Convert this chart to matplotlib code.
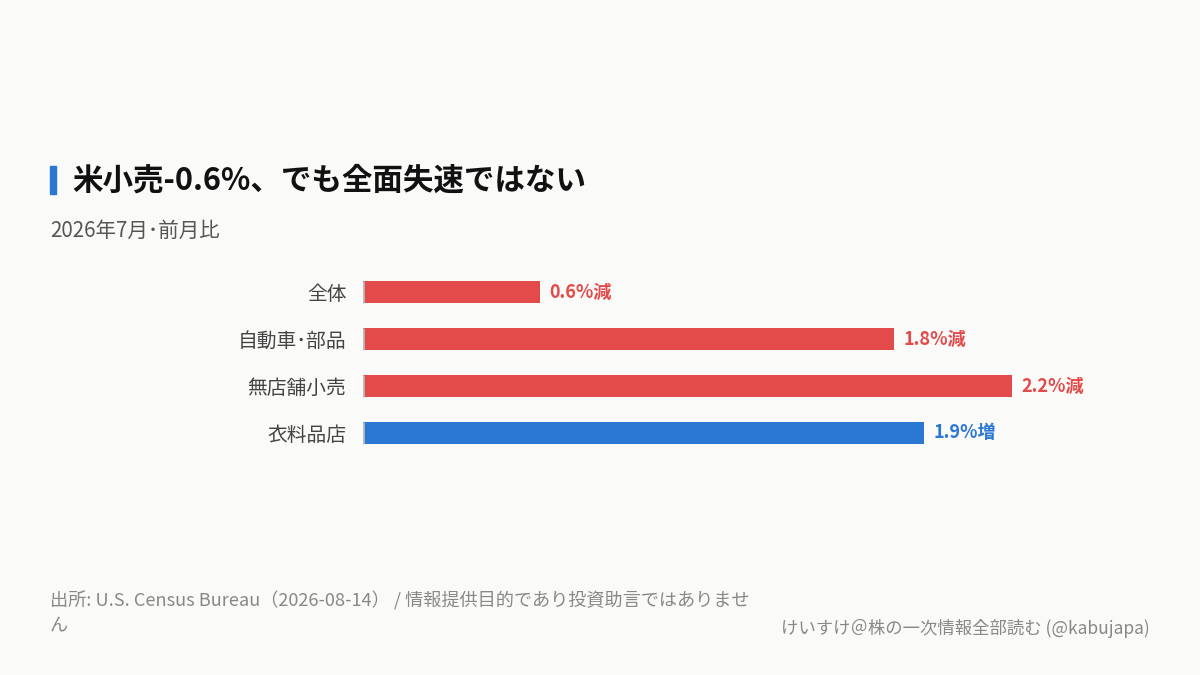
import matplotlib
matplotlib.use("Agg")
import matplotlib.pyplot as plt
from matplotlib.patches import Rectangle

plt.rcParams["font.family"] = ["Noto Sans CJK JP", "DejaVu Sans"]

# --- data ---
categories = ["全体", "自動車･部品", "無店舗小売", "衣料品店"]
changes = [-0.6, -1.8, -2.2, 1.9]          # 前月比 (%)
value_labels = ["0.6%減", "1.8%減", "2.2%減", "1.9%増"]

title = "米小売-0.6%、でも全面失速ではない"
subtitle = "2026年7月･前月比"
source = "出所: U.S. Census Bureau（2026-08-14） / 情報提供目的であり投資助言ではありませ\nん"
credit = "けいすけ＠株の一次情報全部読む (@kabujapa)"

BG = "#FAFAF8"
RED = "#E34A4A"
BLUE = "#2A77D4"

W, H = 1200, 675
fig = plt.figure(figsize=(12, 6.75), dpi=100, facecolor=BG)

# axes placed so 1% = 295 px, bars start at x=363
left_px, right_px = 363, 1150
ax = fig.add_axes([left_px / W, 1 - 456.5 / H, (right_px - left_px) / W, 188 / H])
ax.set_facecolor(BG)

mags = [abs(v) for v in changes]
colors = [RED if v < 0 else BLUE for v in changes]
ypos = list(range(len(categories)))
bar_h = 0.47
ax.barh(ypos, mags, height=bar_h, color=colors, zorder=2)
# small grey baseline tick at each bar's start
ax.vlines([0] * len(ypos), [y - bar_h / 2 for y in ypos], [y + bar_h / 2 for y in ypos],
          color="#BBBBBB", lw=2, zorder=3)

for y, m, lab, c in zip(ypos, mags, value_labels, colors):
    ax.annotate(lab, xy=(m, y), xytext=(7, 0), textcoords="offset points",
                ha="left", va="center", fontsize=13, fontweight="bold", color=c)

ax.set_xlim(0, (right_px - left_px) / 295)
ax.set_ylim(len(categories) - 0.5, -0.5)
ax.set_yticks(ypos)
ax.set_yticklabels(categories, fontsize=14.2, color="#444444")
ax.tick_params(axis="y", length=0, pad=12)
ax.set_xticks([])
for s in ax.spines.values():
    s.set_visible(False)

# title with accent bar
fig.patches.append(Rectangle((50 / W, 1 - 194 / H), 6 / W, 28 / H,
                             transform=fig.transFigure, color=BLUE, zorder=5))
fig.text(72 / W, 1 - 181 / H, title, fontsize=22, fontweight="bold",
         color="#111111", va="center", ha="left")
fig.text(50 / W, 1 - 231 / H, subtitle, fontsize=14.8, color="#555555",
         va="center", ha="left")

fig.text(50 / W, 1 - 613 / H, source, fontsize=13.1, color="#888888",
         va="center", ha="left", linespacing=1.5)
fig.text(1150 / W, 1 - 628 / H, credit, fontsize=12.5, color="#888888",
         va="center", ha="right")

fig.savefig("out.png", dpi=100, facecolor=BG)
